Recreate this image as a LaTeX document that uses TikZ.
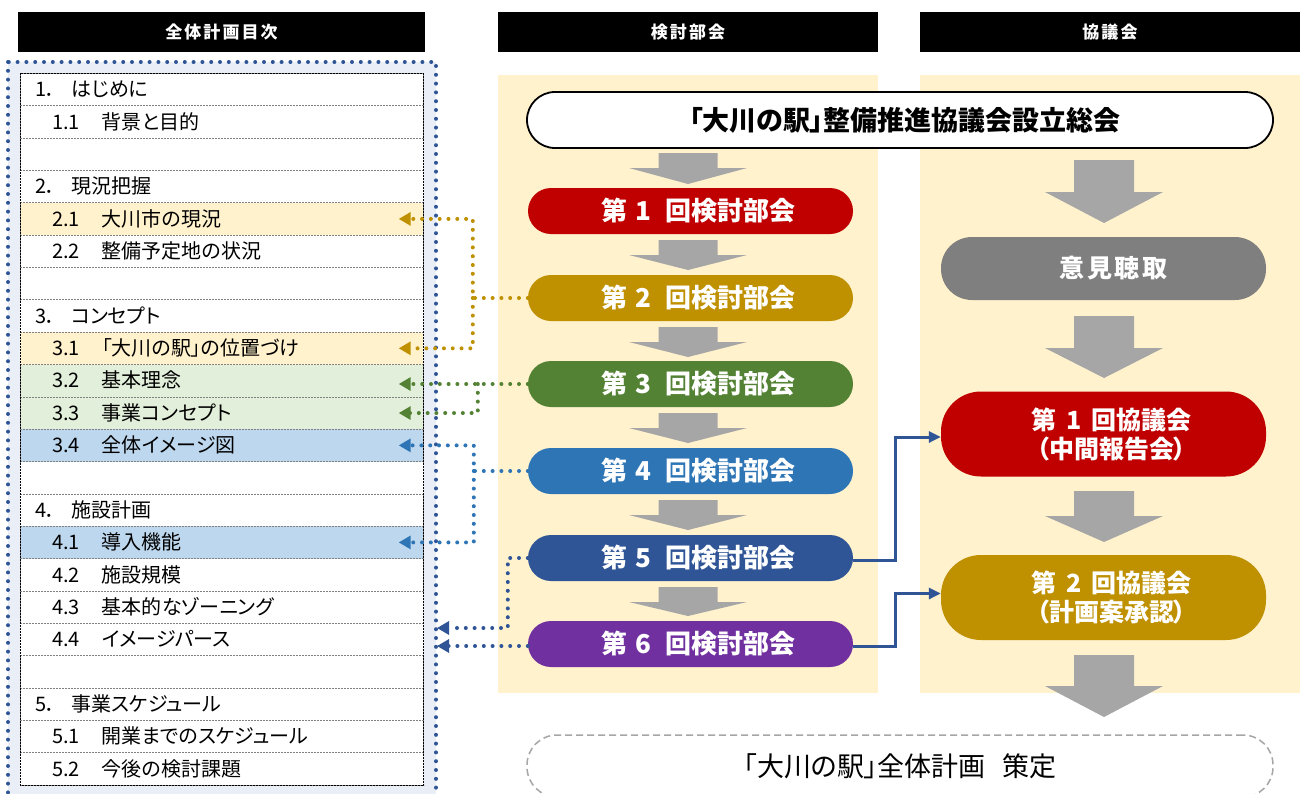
\documentclass[tikz,border=0pt]{standalone}
\usepackage{fontspec}
\setmainfont{Noto Sans CJK JP}[CharacterWidth=AlternateProportional]
\usetikzlibrary{arrows.meta}
\definecolor{cred}{HTML}{C00000}
\definecolor{cgold}{HTML}{BF9000}
\definecolor{cgreen}{HTML}{548235}
\definecolor{cblue}{HTML}{2E75B6}
\definecolor{cnavy}{HTML}{2F5597}
\definecolor{cpurple}{HTML}{7030A0}
\definecolor{cgray}{HTML}{7F7F7F}
\definecolor{agray}{HTML}{A6A6A6}
\definecolor{panelbg}{HTML}{FFF2CC}
\definecolor{rowy}{HTML}{FFF2CC}
\definecolor{rowg}{HTML}{E2EFDA}
\definecolor{rowb}{HTML}{BDD7EE}
\definecolor{outerbg}{HTML}{E9EEF7}
\definecolor{rowline}{HTML}{808080}
\newcommand\tocA[2]{#1．\hspace{15pt}#2}
\newcommand\tocB[2]{#1\hspace{22pt}#2}
\newcommand\kai[1]{\hspace*{16pt}第\hspace{0.3em}#1\hspace{0.55em}回検討部会}
\newcommand\blockarrow[6]{\fill[agray] ({#1-#5},#2) -- ({#1+#5},#2) -- ({#1+#5},#3) -- ({#1+#6},#3) -- (#1,#4) -- ({#1-#6},#3) -- ({#1-#5},#3) -- cycle;}
\tikzset{
  hdr/.style={fill=black, text=white, inner sep=0pt, minimum height=40pt,
    font=\fontsize{17}{17}\selectfont\bfseries\addfontfeature{LetterSpace=12}},
  rowbox/.style={draw=rowline, dash pattern=on 2pt off 1pt, line width=0.7pt,
    minimum width=403pt, minimum height=32.35pt, anchor=north west, inner sep=0pt},
  rowtext/.style={anchor=west, inner sep=0pt, font=\fontsize{20}{20}\selectfont},
  pill/.style={text=white, rounded corners=23pt, minimum width=325pt, minimum height=46pt,
    inner sep=0pt, font=\fontsize{26}{26}\selectfont\bfseries},
  bigpill/.style={text=white, rounded corners=40pt, minimum width=325pt, minimum height=85pt,
    inner sep=0pt, align=center, font=\fontsize{25}{29}\selectfont\bfseries},
  dotline/.style={line width=4pt, dash pattern=on 0pt off 8.8pt, line cap=round},
  tip/.style={-{Triangle[length=12pt,width=13pt]}},
  link/.style={cnavy, line width=3pt, -{Triangle[length=12pt,width=11pt]}}
}
\begin{document}
\begin{tikzpicture}[x=1pt,y=-1pt]
\useasboundingbox (0,0) rectangle (1301,793);
\clip (0,0) rectangle (1301,793);
\fill[white] (0,0) rectangle (1301,793);
% headers
\node[hdr, minimum width=407pt] (h1) at (221.5,32) {全体計画目次};
\node[hdr, minimum width=380pt] (h2) at (688,32) {検討部会};
\node[hdr, minimum width=380pt] (h3) at (1110,32) {協議会};
% panels
\fill[panelbg] (498,75) rectangle (878,693);
\fill[panelbg] (920,75) rectangle (1300,693);
% outer dotted box
\draw[cnavy, dotline, fill=outerbg] (8,62) rectangle (436,840);
% rows
\foreach \i/\fc/\ind/\t in {
  1/white/35/{\tocA{1}{はじめに}},
  2/white/52/{\tocB{1.1}{背景と目的}},
  3/white/52/{},
  4/white/35/{\tocA{2}{現況把握}},
  5/rowy/52/{\tocB{2.1}{大川市の現況}},
  6/white/52/{\tocB{2.2}{整備予定地の状況}},
  7/white/52/{},
  8/white/35/{\tocA{3}{コンセプト}},
  9/rowy/52/{\tocB{3.1}{「大川の駅」の位置づけ}},
  10/rowg/52/{\tocB{3.2}{基本理念}},
  11/rowg/52/{\tocB{3.3}{事業コンセプト}},
  12/rowb/52/{\tocB{3.4}{全体イメージ図}},
  13/white/52/{},
  14/white/35/{\tocA{4}{施設計画}},
  15/rowb/52/{\tocB{4.1}{導入機能}},
  16/white/52/{\tocB{4.2}{施設規模}},
  17/white/52/{\tocB{4.3}{基本的なゾーニング}},
  18/white/52/{\tocB{4.4}{イメージパース}},
  19/white/52/{},
  20/white/35/{\tocA{5}{事業スケジュール}},
  21/white/52/{\tocB{5.1}{開業までのスケジュール}},
  22/white/52/{\tocB{5.2}{今後の検討課題}}}{
  \node[rowbox, fill=\fc] (r\i) at (20,{73+(\i-1)*32.35}) {};
  \node[rowtext] (t\i) at (\ind,{73+(\i-0.5)*32.35}) {\t};
}
\draw[black, dash pattern=on 2pt off 1pt, line width=0.8pt] (r1.north west) rectangle (r22.south east);
% top box
\node[draw=black, fill=white, line width=1.8pt, rounded corners=28pt, minimum width=746pt,
  minimum height=56pt, inner sep=0pt, font=\fontsize{27}{27}\selectfont\bfseries] (top) at (900,120) {\hspace*{10pt}「大川の駅」整備推進協議会設立総会};
% middle pills
\node[pill, fill=cred] (p1) at (690.5,211) {\kai{1}};
\node[pill, fill=cgold] (p2) at (690.5,298) {\kai{2}};
\node[pill, fill=cgreen] (p3) at (690.5,384) {\kai{3}};
\node[pill, fill=cblue] (p4) at (690.5,471) {\kai{4}};
\node[pill, fill=cnavy] (p5) at (690.5,558) {\kai{5}};
\node[pill, fill=cpurple] (p6) at (690.5,644) {\kai{6}};
% right pills
\node[pill, fill=cgray, minimum height=63pt, rounded corners=31pt, font=\fontsize{25}{25}\selectfont\bfseries\addfontfeature{LetterSpace=10}] (c0) at (1103.5,268.5) {\hspace*{20pt}意見聴取};
\node[bigpill, fill=cred] (c1) at (1103.5,434) {\hspace*{16pt}第\hspace{0.4em}1\hspace{0.4em}回協議会\\\hspace*{16pt}（中間報告会）};
\node[bigpill, fill=cgold] (c2) at (1103.5,597.5) {\hspace*{16pt}第\hspace{0.4em}2\hspace{0.4em}回協議会\\\hspace*{16pt}（計画案承認）};
% bottom box
\node[draw=agray, dash pattern=on 7pt off 4pt, line width=1.5pt, fill=white, rounded corners=30pt,
  minimum width=746pt, minimum height=62pt, inner sep=0pt, font=\fontsize{27}{27}\selectfont] (fin) at (900,766) {「大川の駅」全体計画\hspace{0.6em}策定};
% block arrows (middle)
\blockarrow{688}{153}{168}{184}{29.5}{59}
\blockarrow{688}{240}{255}{270}{29.5}{59}
\blockarrow{688}{327}{342}{357}{29.5}{59}
\blockarrow{688}{413}{428}{443}{29.5}{59}
\blockarrow{688}{500}{515}{530}{29.5}{59}
\blockarrow{688}{587}{602}{616}{29.5}{59}
% block arrows (right)
\blockarrow{1104}{160}{192}{223}{30}{59}
\blockarrow{1104}{316}{348}{378}{30}{59}
\blockarrow{1104}{491}{516}{542}{30}{59}
\blockarrow{1104}{655}{686}{717}{30}{59}
% dotted connectors
\draw[cgold, dotline, tip] (p2.west) -- ++(-55,0) |- ([xshift=-25pt]r5.east);
\draw[cgold, dotline, tip] ([xshift=-55pt]p2.west) |- ([xshift=-25pt]r9.east);
\draw[cgreen, dotline, tip] (p3.west) -- ([xshift=-25pt]r10.east |- p3.west);
\draw[cgreen, dotline, tip] ([xshift=-50pt]p3.west) |- ([xshift=-25pt]r11.east);
\draw[cblue, dotline, tip] (p4.west) -- ++(-54,0) |- ([xshift=-25pt]r12.east);
\draw[cblue, dotline, tip] ([xshift=-54pt]p4.west) |- ([xshift=-25pt]r15.east);
\coordinate (n1) at (437,628);
\coordinate (n2) at (437,646);
\draw[cnavy, dotline, tip] (p5.west) -- ++(-20,0) |- (n1);
\draw[cnavy, dotline, tip] ([yshift=-2pt]p6.west) -- (n2);
% solid connectors
\draw[link] ([yshift=-2pt]p5.east) -- ++(42,0) |- ([yshift=-3pt]c1.west);
\draw[link] ([yshift=-2pt]p6.east) -- ++(42,0) |- ([yshift=4pt]c2.west);
\end{tikzpicture}
\end{document}
